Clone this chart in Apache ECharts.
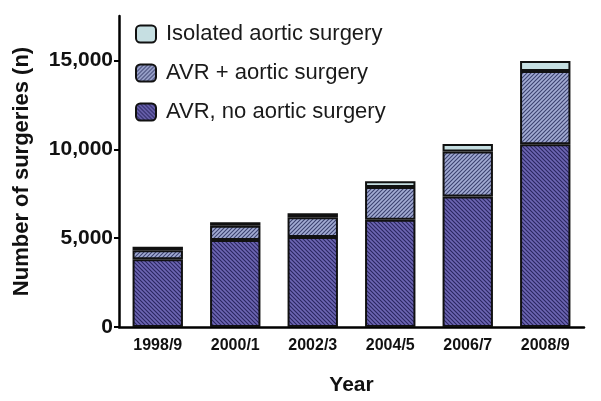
<!DOCTYPE html>
<html><head><meta charset="utf-8">
<script src="https://cdn.jsdelivr.net/npm/echarts@6/dist/echarts.min.js"></script>
<style>html,body{margin:0;padding:0;background:#fff}#c{width:601px;height:401px}</style>
</head><body><div id="c"></div>
<script>
const categories = ['1998/9','2000/1','2002/3','2004/5','2006/7','2008/9'];
const avrNoAortic = [3810, 4890, 5070, 6040, 7350, 10280];
const avrPlusAortic = [510, 810, 1110, 1840, 2520, 4120];
const isolatedAortic = [190, 190, 220, 320, 430, 570];
const yTicks = [0, 5000, 10000, 15000];

function hatch(bg, line, dir) {
  const s = 4;
  const c = document.createElement('canvas');
  c.width = s; c.height = s;
  const g = c.getContext('2d');
  g.fillStyle = bg; g.fillRect(0, 0, s, s);
  g.strokeStyle = line; g.lineWidth = 1.1;
  g.beginPath();
  if (dir === 'back') {
    g.moveTo(-1, -1); g.lineTo(s + 1, s + 1);
    g.moveTo(-1, s - 1); g.lineTo(1, s + 1);
    g.moveTo(s - 1, -1); g.lineTo(s + 1, 1);
  } else {
    g.moveTo(-1, s + 1); g.lineTo(s + 1, -1);
    g.moveTo(-1, 1); g.lineTo(1, -1);
    g.moveTo(s - 1, s + 1); g.lineTo(s + 1, s - 1);
  }
  g.stroke();
  return { image: c, repeat: 'repeat' };
}

const chart = echarts.init(document.getElementById('c'), null, { renderer: 'canvas' });
const fontFam = 'Liberation Sans, Arial, sans-serif';
chart.setOption({
  animation: false,
  grid: { left: 119, right: 17, top: 16, bottom: 74 },
  legend: {
    orient: 'vertical', left: 130, top: 18, itemGap: 17,
    itemWidth: 20, itemHeight: 17,
    data: ['Isolated aortic surgery', 'AVR + aortic surgery', 'AVR, no aortic surgery'],
    textStyle: { fontFamily: fontFam, fontSize: 22, color: '#1a1a1a', padding: [0, 0, 0, 5] }
  },
  xAxis: {
    type: 'category', data: categories,
    name: 'Year', nameLocation: 'middle', nameGap: 48,
    nameTextStyle: { fontFamily: fontFam, fontSize: 21, fontWeight: 'bold', color: '#111' },
    axisLine: { lineStyle: { color: '#000', width: 2.5 } },
    axisTick: { alignWithLabel: true, length: 5, lineStyle: { color: '#000', width: 2 } },
    axisLabel: { fontFamily: fontFam, fontSize: 16, fontWeight: 'bold', color: '#111', margin: 11 }
  },
  yAxis: {
    type: 'value', min: 0, max: 17500,
    name: 'Number of surgeries (n)', nameLocation: 'middle', nameGap: 86,
    nameTextStyle: { fontFamily: fontFam, fontSize: 22, fontWeight: 'bold', color: '#111' },
    splitLine: { show: false },
    axisLine: { show: true, lineStyle: { color: '#000', width: 2.5 } },
    axisTick: { show: true, length: 5, customValues: yTicks, lineStyle: { color: '#000', width: 2 } },
    axisLabel: {
      customValues: yTicks, fontFamily: fontFam, fontSize: 21, fontWeight: 'bold', color: '#111', margin: 6,
      formatter: v => v.toLocaleString('en-US')
    }
  },
  series: [
    {
      name: 'AVR, no aortic surgery', type: 'bar', stack: 's', data: avrNoAortic,
      barCategoryGap: '35%',
      itemStyle: { color: hatch('#6d66b3', '#2a2660', 'back'), borderColor: '#111', borderWidth: 2 }
    },
    {
      name: 'AVR + aortic surgery', type: 'bar', stack: 's', data: avrPlusAortic,
      itemStyle: { color: hatch('#a3acd4', '#3c4270', 'fwd'), borderColor: '#111', borderWidth: 2 }
    },
    {
      name: 'Isolated aortic surgery', type: 'bar', stack: 's', data: isolatedAortic,
      itemStyle: { color: '#c6dfe2', borderColor: '#111', borderWidth: 2 }
    }
  ]
});
</script></body></html>
